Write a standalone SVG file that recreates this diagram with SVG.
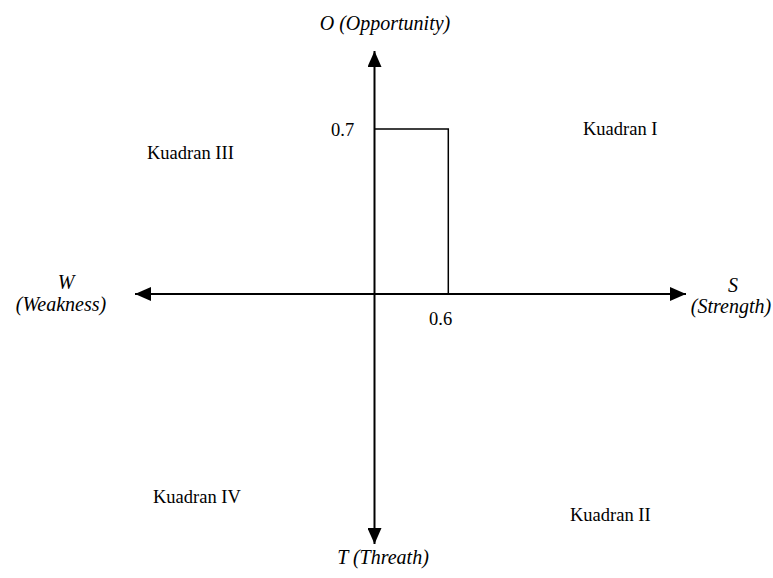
<svg xmlns="http://www.w3.org/2000/svg" width="773" height="578" viewBox="0 0 773 578">
<style>
  text { font-family: 'Liberation Serif', 'DejaVu Serif', serif; font-size: 18.5px; fill: #000; }
  .it { font-style: italic; font-size: 20px; }
  .ax { stroke: #000; stroke-width: 2; fill: none; }
  .box { stroke: #000; stroke-width: 1.5; fill: none; }
</style>
<defs>
  <marker id="arr" viewBox="0 0 16 14" refX="16" refY="7" markerWidth="16" markerHeight="14" markerUnits="userSpaceOnUse" orient="auto">
    <path d="M0,0 L16,7 L0,14 Z" fill="#000"/>
  </marker>
</defs>
<rect width="773" height="578" fill="#fff"/>
<g id="connectors">
  <line class="ax" x1="374.5" y1="294" x2="374.5" y2="51" marker-end="url(#arr)"/>
  <line class="ax" x1="374.5" y1="294" x2="374.5" y2="544" marker-end="url(#arr)"/>
  <line class="ax" x1="374.5" y1="294" x2="135" y2="294" marker-end="url(#arr)"/>
  <line class="ax" x1="374.5" y1="294" x2="686" y2="294" marker-end="url(#arr)"/>
</g>
<g id="box">
  <polyline class="box" points="374.5,129 448.3,129 448.3,294"/>
</g>
<g id="label-O"><text class="it" font-family="Liberation Serif, serif" x="385" y="30" text-anchor="middle">O (Opportunity)</text></g>
<g id="label-T"><text class="it" font-family="Liberation Serif, serif" x="383" y="564" text-anchor="middle">T (Threath)</text></g>
<g id="label-W">
  <text class="it" font-family="Liberation Serif, serif" x="66" y="289" text-anchor="middle">W</text>
  <text class="it" font-family="Liberation Serif, serif" x="61" y="311" text-anchor="middle">(Weakness)</text>
</g>
<g id="label-S">
  <text class="it" font-family="Liberation Serif, serif" x="733" y="292" text-anchor="middle">S</text>
  <text class="it" font-family="Liberation Serif, serif" x="731" y="313" text-anchor="middle">(Strength)</text>
</g>
<g id="val-07"><text font-family="Liberation Serif, serif" x="331" y="136">0.7</text></g>
<g id="val-06"><text font-family="Liberation Serif, serif" x="429" y="325">0.6</text></g>
<g id="kuadran-I"><text font-family="Liberation Serif, serif" x="583" y="135">Kuadran I</text></g>
<g id="kuadran-II"><text font-family="Liberation Serif, serif" x="570" y="521">Kuadran II</text></g>
<g id="kuadran-III"><text font-family="Liberation Serif, serif" x="147" y="159">Kuadran III</text></g>
<g id="kuadran-IV"><text font-family="Liberation Serif, serif" x="153" y="503">Kuadran IV</text></g>
</svg>
